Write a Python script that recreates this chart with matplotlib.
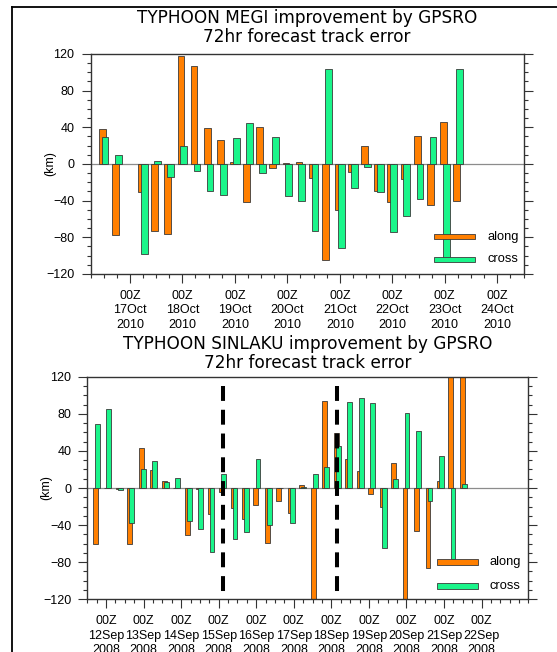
import numpy as np
import matplotlib.pyplot as plt
from matplotlib.patches import Rectangle
from matplotlib.lines import Line2D

plt.rcParams['font.family'] = ['Liberation Sans', 'DejaVu Sans']

# Typhoon Megi: hours after 00Z 17 Oct 2010, along/cross track error change (km)
megi_hours = [-12, -6, 6, 12, 18, 24, 30, 36, 42, 48, 54, 60, 66, 72, 78, 84,
              90, 96, 102, 108, 114, 120, 126, 132, 138, 144, 150]
megi_along = [38, -77, -31, -73, -76, 118, 107, 39, 26, 2, -42, 40, -4, 1, 2,
              -15, -105, -50, -9, 20, -30, -41, -16, 30, -45, 46, -40]
megi_cross = [29, 10, -98, 3, -14, 20, -8, -30, -34, 28, 45, -10, 29, -35, -40,
              -73, 104, -92, -26, -3, -31, -74, -57, -38, 29, -104, 104]
megi_days = [17, 18, 19, 20, 21, 22, 23, 24]

# Typhoon Sinlaku: 33 cases, hours after 00Z 12 Sep 2008
sinlaku_hours = np.linspace(-6.2, 228.4, 33)
sinlaku_along = [-60, 0, -1, -60, 43, 19, 8, 0, -51, -1, -28, -4, -22, -33, -18,
                 -59, -14, -27, 3, -135, 94, 59, 31, 18, -6, -20, 27, -130, -46,
                 -86, 8, 150, 150]
sinlaku_cross = [69, 85, -2, -38, 20, 29, 7, 11, -36, -44, -69, 15, -55, -47, 31,
                 -40, 0, -38, 1, 15, 23, 45, 93, 97, 92, -65, 10, 81, 62, -14,
                 35, -77, 4]
sinlaku_days = [12, 13, 14, 15, 16, 17, 18, 19, 20, 21, 22]
sinlaku_marks = [11, 21]  # cases split by the dashed lines

ORANGE = '#FF7F00'
GREEN = '#1AF58A'
EDGE = '#3a3a3a'
AXC = '#333333'


def draw_panel(ax, hours, along, cross, xlim, labels):
    hours = np.asarray(hours, dtype=float)
    ax.axhline(0, color='#8c8c8c', lw=0.9, zorder=1)
    ax.bar(hours - 0.65, along, width=3.1, color=ORANGE, edgecolor=EDGE,
           linewidth=0.6, zorder=2)
    ax.bar(hours + 0.65, cross, width=3.1, color=GREEN, edgecolor=EDGE,
           linewidth=0.6, zorder=3)

    ax.set_xlim(*xlim)
    ax.set_ylim(-120, 120)
    ax.set_yticks(np.arange(-120, 121, 40))
    ax.set_yticks(np.arange(-120, 121, 10), minor=True)
    ax.set_xticks(np.arange(len(labels)) * 24)
    ax.set_xticks(np.arange(xlim[0], xlim[1] + 1, 6), minor=True)
    ax.set_xticklabels(labels, linespacing=1.28)

    ax.tick_params(which='both', direction='out', right=True, top=False,
                   width=0.8, color=AXC, labelsize=9)
    ax.tick_params(which='major', length=6.5, pad=5)
    ax.tick_params(which='minor', length=3.2)
    for s in ax.spines.values():
        s.set_color(AXC)
        s.set_linewidth(1.0)

    ax.set_ylabel('(km)', fontsize=9, va='center')
    ax.yaxis.set_label_coords(-0.092, 0.5)


def add_key(ax, x0, w, ys, h, tx):
    for y, color, name in zip(ys, [ORANGE, GREEN], ['along', 'cross']):
        ax.add_patch(Rectangle((x0, y - h / 2), w, h, transform=ax.transAxes,
                               facecolor=color, edgecolor=EDGE, lw=0.6,
                               zorder=5, clip_on=False))
        ax.text(tx, y, name, transform=ax.transAxes, ha='left', va='center',
                fontsize=9.3, zorder=5)


fig = plt.figure(figsize=(5.57, 6.52), dpi=100)

# frame around the page
fig.add_artist(Line2D([12 / 557, 12 / 557], [0, 1 - 7 / 652],
                      transform=fig.transFigure, color='black', lw=1.3))
fig.add_artist(Line2D([12 / 557, 1], [1 - 7 / 652, 1 - 7 / 652],
                      transform=fig.transFigure, color='black', lw=1.3))

# Megi
ax1 = fig.add_axes([0.1625, 0.5798, 0.7774, 0.3374])
draw_panel(ax1, megi_hours, megi_along, megi_cross, (-18, 180),
           ['00Z\n%dOct\n2010' % d for d in megi_days])
add_key(ax1, 0.793, 0.0947, [0.1695, 0.066], 0.025, 0.916)
fig.text(0.551, 1 - 18 / 652, 'TYPHOON MEGI improvement by GPSRO',
         ha='center', va='center', fontsize=12.2, family='DejaVu Sans')
fig.text(0.551, 1 - 37 / 652, '72hr forecast track error',
         ha='center', va='center', fontsize=12.2, family='DejaVu Sans')

# Sinlaku
ax2 = fig.add_axes([0.1567, 0.0808, 0.7921, 0.3414])
draw_panel(ax2, sinlaku_hours, sinlaku_along, sinlaku_cross, (-12, 270),
           ['00Z\n%dSep\n2008' % d for d in sinlaku_days])
for i in sinlaku_marks:
    ax2.plot([sinlaku_hours[i], sinlaku_hours[i]], [110, -120], color='black',
             lw=2.9, linestyle=(0, (3.7, 2.2)), zorder=6, solid_capstyle='butt')
add_key(ax2, 0.7926, 0.093, [0.1676, 0.0597], 0.027, 0.9127)
fig.text(0.5528, 1 - 344 / 652, 'TYPHOON SINLAKU improvement by GPSRO',
         ha='center', va='center', fontsize=12.2, family='DejaVu Sans')
fig.text(0.5528, 1 - 363 / 652, '72hr forecast track error',
         ha='center', va='center', fontsize=12.2, family='DejaVu Sans')

fig.savefig('out.png', dpi=100)
